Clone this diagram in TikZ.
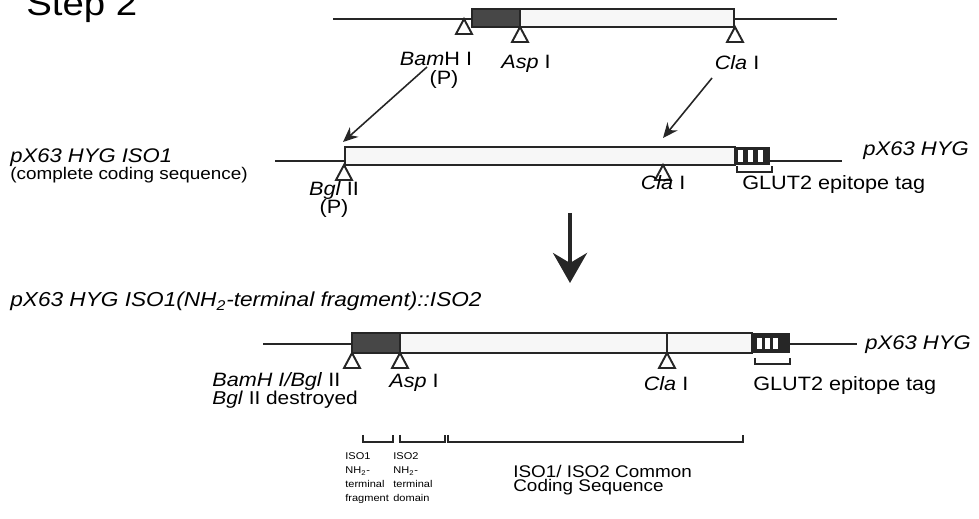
\documentclass[tikz,border=0pt]{standalone}
\usepackage{fontspec}
\setmainfont{Liberation Sans}[FakeStretch=1.12]
\usepackage{tikz}
\usetikzlibrary{positioning, arrows.meta}
\tikzset{
    dnaline/.style={draw=black!85, line width=1.1pt},
    darkseg/.style={draw=black!85, fill=black!72, line width=1pt},
    lightseg/.style={draw=black!85, fill=black!3, line width=1pt},
    tagbox/.style={fill=black!85, draw=none},
    tagbar/.style={fill=white, draw=none},
    tagbracket/.style={draw=black!85, line width=1.1pt},
    enzlabel/.style={anchor=base, inner sep=0pt, font=\fontsize{11}{13}\selectfont},
    leftlabel/.style={anchor=base west, inner sep=0pt, font=\fontsize{11}{13}\selectfont},
    vectorlabel/.style={anchor=base west, inner sep=0pt, font=\fontsize{11.2}{13}\selectfont\itshape},
    domlabel/.style={anchor=north west, inner sep=0pt, align=left, font=\fontsize{5.6}{8}\selectfont},
    pointer/.style={-{Stealth[length=3mm, width=2.6mm]}, line width=0.9pt, draw=black!85},
    bigpointer/.style={-{Stealth[length=6mm, width=6.8mm, inset=2mm]}, line width=2.3pt, draw=black!85},
    site/.pic={\draw[fill=white, draw=black!85, line width=1.1pt] (0,0) -- (-8,15) -- (8,15) -- cycle;},
}

\begin{document}
\begin{tikzpicture}[x=0.02cm, y=-0.02cm]
\useasboundingbox (0,0) rectangle (979,519);

\node[anchor=base west, inner sep=0pt, font=\fontsize{19.5}{22}\selectfont] (steptitle) at (26,16) {Step 2};

% donor: ISO2
\draw[dnaline] (333,19) -- (837,19);
\draw[darkseg] (472,9) rectangle (520,27);
\draw[lightseg] (520,9) rectangle (734,27);
\pic (bamsite) at (464,19) {site};
\pic (aspsite) at (520,27) {site};
\pic (clasite) at (735,27) {site};
\node[enzlabel] (bamtop) at (436,66) {\textit{Bam}H I};
\node[enzlabel] (ptop) at (444,85) {(P)};
\node[enzlabel] (asptop) at (526,69) {\textit{Asp} I};
\node[enzlabel] (clatop) at (737,70) {\textit{Cla} I};

% acceptor: ISO1
\draw[dnaline] (275,161) -- (842,161);
\draw[lightseg] (345,147) rectangle (735,165);
\fill[tagbox] (735,147) rectangle (770,165);
\foreach \bx in {738,748,758}
    \fill[tagbar] (\bx,150) rectangle ++(5,12);
\pic (bglsite) at (344,165) {site};
\pic (clamidsite) at (663,165) {site};
\draw[tagbracket] (737,166) -- (737,172) -- (772,172) -- (772,166);
\node[vectorlabel] (isoone) at (10,163) {pX63 HYG ISO1};
\node[anchor=base west, inner sep=0pt, font=\fontsize{9.6}{11}\selectfont] (isoonenote) at (10,180) {(complete coding sequence)};
\node[enzlabel] (bglmid) at (334,196) {\textit{Bgl} II};
\node[enzlabel] (pmid) at (334,214) {(P)};
\node[enzlabel] (clamid) at (663,190) {\textit{Cla} I};
\node[leftlabel] (tagmid) at (742,190) {GLUT2 epitope tag};
\node[vectorlabel] (vecmid) at (863,156) {pX63 HYG};

\coordinate (bamtail) at (427,67);
\coordinate (bglhead) at (343,142);
\coordinate (clatail) at (712,78);
\coordinate (clahead) at (663,138);
\draw[pointer] (bamtail) -- (bglhead);
\draw[pointer] (clatail) -- (clahead);

\coordinate (steptail) at (570,213);
\coordinate (stephead) at (570,283);
\draw[bigpointer] (steptail) -- (stephead);

% fusion product
\node[vectorlabel, font=\fontsize{11.5}{13}\selectfont\itshape] (fusion) at (10,307) {pX63 HYG ISO1(NH\textsubscript{2}-terminal fragment)::ISO2};
\draw[dnaline] (263,344) -- (857,344);
\draw[darkseg] (352,333) rectangle (400,353);
\draw[lightseg] (400,333) rectangle (752,353);
\draw[dnaline] (667,333) -- (667,353);
\fill[tagbox] (752,333) rectangle (790,353);
\foreach \bx in {757,765,773}
    \fill[tagbar] (\bx,338) rectangle ++(5,11);
\pic (fusesite) at (352,353) {site};
\pic (aspbotsite) at (400,353) {site};
\pic (clabotsite) at (667,353) {site};
\draw[tagbracket] (755,358) -- (755,364) -- (790,364) -- (790,358);
\node[leftlabel] (bambgl) at (212,387) {\textit{BamH I/Bgl} II};
\node[leftlabel, font=\fontsize{10.6}{13}\selectfont] (bglgone) at (212,405) {\textit{Bgl} II destroyed};
\node[enzlabel] (aspbot) at (414,388) {\textit{Asp} I};
\node[enzlabel] (clabot) at (666,391) {\textit{Cla} I};
\node[leftlabel] (tagbot) at (753,391) {GLUT2 epitope tag};
\node[vectorlabel] (vecbot) at (865,350) {pX63 HYG};

% domains
\draw[tagbracket] (363,435) -- (363,442) -- (393,442) -- (393,435);
\draw[tagbracket] (400,435) -- (400,442) -- (445,442) -- (445,435);
\draw[tagbracket] (448,435) -- (448,442) -- (743,442) -- (743,435);
\node[domlabel] (isoonedom) at (345,452) {ISO1\\NH\textsubscript{2}-\\terminal\\fragment};
\node[domlabel] (isotwodom) at (393,452) {ISO2\\NH\textsubscript{2}-\\terminal\\domain};
\node[anchor=north west, inner sep=0pt, align=left, font=\fontsize{9.6}{8.2}\selectfont] (common) at (513,465) {ISO1/ ISO2 Common\\Coding Sequence};
\end{tikzpicture}
\end{document}
